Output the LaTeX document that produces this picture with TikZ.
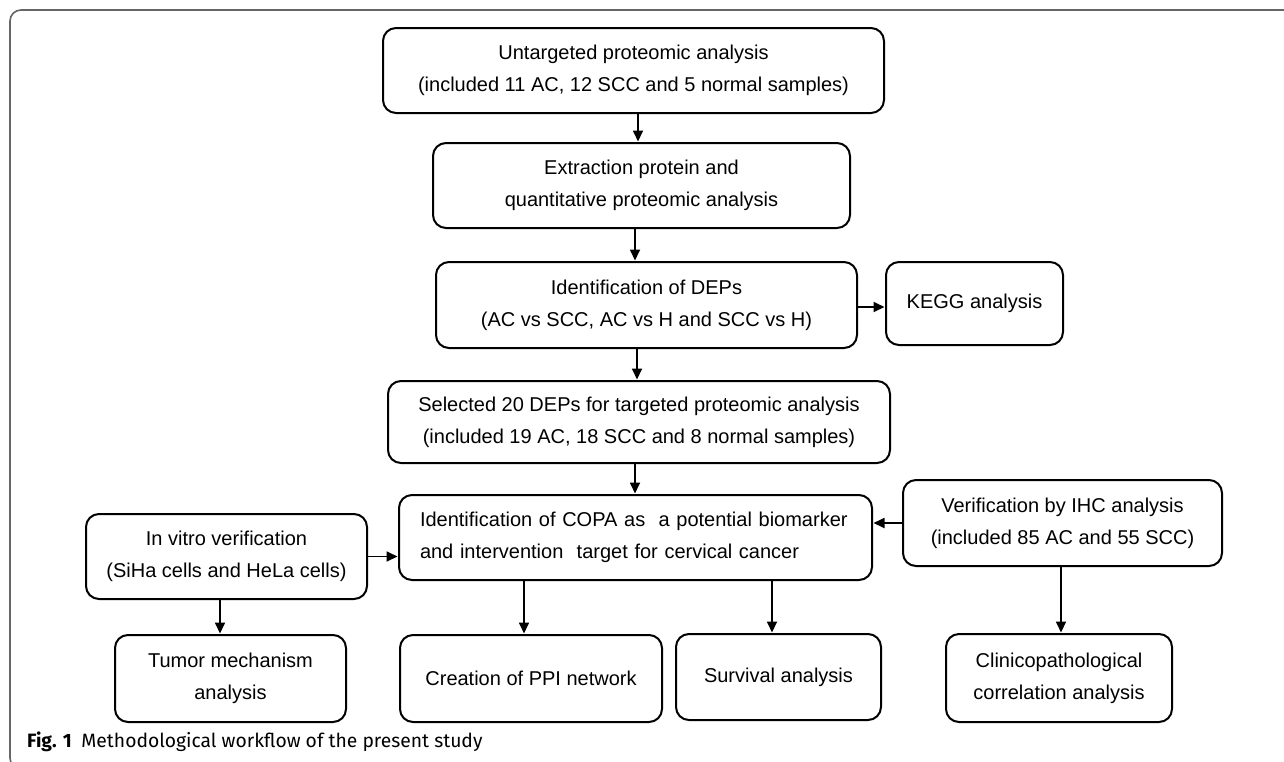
\documentclass[tikz,border=0pt]{standalone}
\usepackage{fontspec}
\setmainfont{Liberation Sans}
\newfontfamily\capfont{Fira Sans}
\usetikzlibrary{arrows.meta}
\begin{document}
\begin{tikzpicture}[x=1pt,y=-1pt,
  box/.style={draw=black, line width=2pt, rounded corners=13pt, align=center,
    inner sep=0pt, font=\fontsize{20}{32}\selectfont, fill=white},
  arr/.style={line width=1.8pt, -{Triangle[length=11pt,width=10pt]}, shorten >=0.5pt},
  frameline/.style={draw=black!60, line width=1.6pt}
]
\useasboundingbox (0,0) rectangle (1284,761);
\fill[white] (0,0) rectangle (1284,761);
\draw[frameline, rounded corners=11pt] (1300,10) -- (10,10) -- (10,769) -- (1300,769);

\node[box, minimum width=501pt, minimum height=85pt] (b1) at (633.5,70.5)
  {Untargeted proteomic analysis\\(included 11 AC, 12 SCC and 5 normal samples)};
\node[box, minimum width=417pt, minimum height=85pt] (b2) at (641.5,185.5)
  {Extraction protein and\\quantitative proteomic analysis};
\node[box, minimum width=421pt, minimum height=86pt] (b3) at (646.5,305)
  {Identification of DEPs\\(AC vs SCC, AC vs H and SCC vs H)};
\node[box, minimum width=177pt, minimum height=83pt] (kegg) at (974.5,303.5)
  {KEGG analysis};
\node[box, minimum width=502pt, minimum height=82pt] (b4) at (639,422)
  {Selected 20 DEPs for targeted proteomic analysis\\(included 19 AC, 18 SCC and 8 normal samples)};
\node[box, minimum width=473pt, minimum height=85pt, text width=431pt, align=left] (b5) at (635.5,537.5)
  {Identification of COPA as\ \ a potential biomarker\\and intervention\ \ target for cervical cancer};
\node[box, minimum width=281pt, minimum height=85pt] (vitro) at (226.5,556.5)
  {In vitro verification\\(SiHa cells and HeLa cells)};
\node[box, minimum width=319pt, minimum height=86pt] (ihc) at (1062.5,523)
  {Verification by IHC analysis\\(included 85 AC and 55 SCC)};
\node[box, minimum width=231pt, minimum height=87pt] (tumor) at (230.5,678.5)
  {Tumor mechanism\\analysis};
\node[box, minimum width=262pt, minimum height=87pt] (ppi) at (531,678.5)
  {Creation of PPI network};
\node[box, minimum width=205pt, minimum height=86pt] (surv) at (778.5,677)
  {Survival analysis};
\node[box, minimum width=226pt, minimum height=88pt] (clin) at (1059,678)
  {Clinicopathological\\correlation analysis};

\draw[arr] ([xshift=4.5pt]b1.south) -- ([xshift=4.5pt]b1.south |- b2.north);
\draw[arr] ([xshift=-6.5pt]b2.south) -- ([xshift=-6.5pt]b2.south |- b3.north);
\draw[arr] ([yshift=-2pt]b3.east) -- ([yshift=-2pt]b3.east -| kegg.west);
\draw[arr] ([xshift=-9.5pt]b3.south) -- ([xshift=-9.5pt]b3.south |- b4.north);
\draw[arr] ([xshift=-4pt]b4.south) -- ([xshift=-4pt]b4.south |- b5.north);
\draw[arr] (vitro.east) -- (vitro.east -| b5.west);
\draw[arr] (ihc.west) -- (ihc.west -| b5.east);
\draw[arr] ([xshift=-6.5pt]vitro.south) -- ([xshift=-6.5pt]vitro.south |- tumor.north);
\draw[arr] ([xshift=-111.5pt]b5.south) -- ([xshift=-111.5pt]b5.south |- ppi.north);
\draw[arr] ([xshift=136.5pt]b5.south) -- ([xshift=136.5pt]b5.south |- surv.north);
\draw[arr] ([xshift=-1.5pt]ihc.south) -- ([xshift=-1.5pt]ihc.south |- clin.north);

\node[anchor=base west, inner sep=0pt, font=\capfont\fontsize{19.3}{22}\selectfont] (cap) at (27,747)
  {\textbf{Fig. 1}\hspace{0.5em}Methodological workflow of the present study};
\end{tikzpicture}
\end{document}
